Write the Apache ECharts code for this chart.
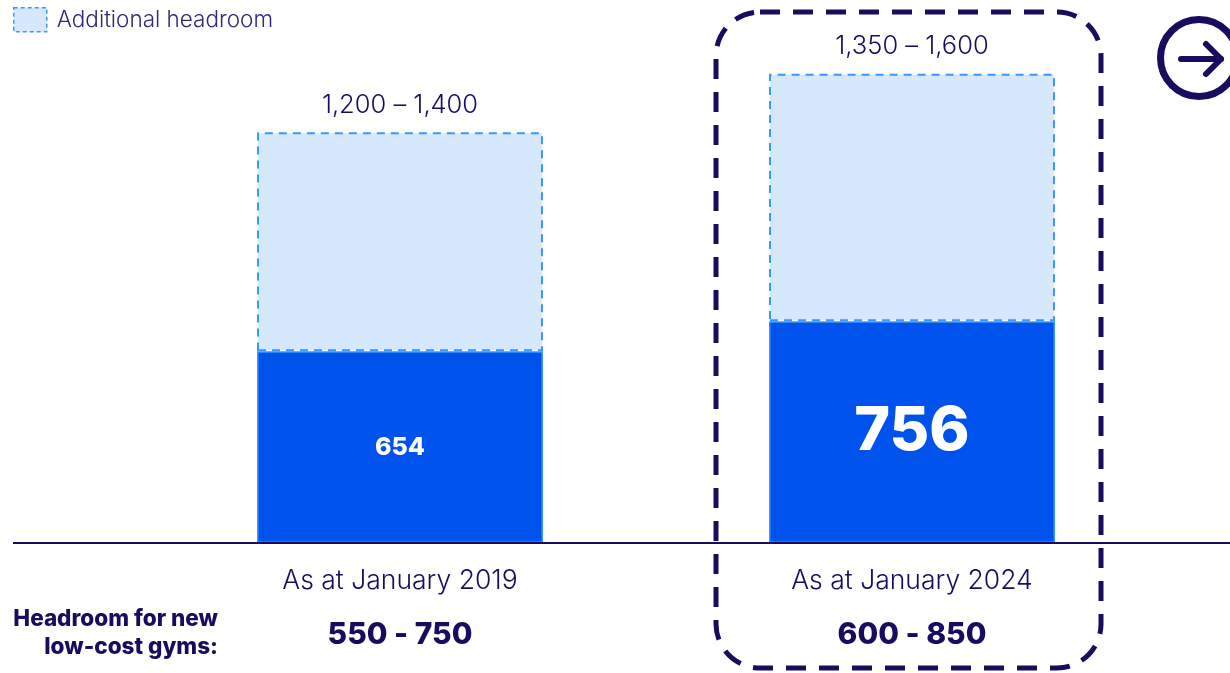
<!DOCTYPE html>
<html>
<head>
<meta charset="utf-8">
<script src="https://cdn.jsdelivr.net/npm/echarts@6/dist/echarts.min.js"></script>
<style>
  html, body { margin: 0; padding: 0; background: #ffffff; }
  #chart { width: 1230px; height: 673px; }
</style>
</head>
<body>
<div id="chart"></div>
<script>
// Low-cost gym estate: current count and estimated market capacity
const categories = ['As at January 2019', 'As at January 2024'];
const currentGyms = [654, 756];
const capacityTop = [1400, 1600];
const capacityLabels = ['1,200 – 1,400', '1,350 – 1,600'];
const headroomLabels = ['550 - 750', '600 - 850'];
const additionalHeadroom = capacityTop.map((t, i) => t - currentGyms[i]);

const NAVY = '#170d5e';
const BLUE = '#0052ec';
const LIGHT = '#d5e8fc';
const EDGE = '#3a97ff';
const FONT = 'Inter, "Noto Sans", sans-serif';

const chart = echarts.init(document.getElementById('chart'));

chart.setOption({
  animation: false,
  textStyle: { fontFamily: FONT },
  grid: { left: 144, right: 62, top: 15, bottom: 130, containLabel: false },
  legend: {
    left: 13, top: 7, padding: 0,
    itemWidth: 33, itemHeight: 24, itemGap: 10,
    icon: 'rect',
    data: [{
      name: 'Additional headroom',
      itemStyle: { color: LIGHT, borderColor: EDGE, borderWidth: 1.5, borderType: [4, 3] }
    }],
    textStyle: { fontSize: 22.5, color: '#2d2878', fontWeight: 300, fontFamily: FONT,
                 padding: [0, 0, 0, 5] }
  },
  xAxis: {
    type: 'category',
    data: categories,
    axisLine: { lineStyle: { color: NAVY, width: 2 } },
    axisTick: { show: false },
    axisLabel: {
      margin: 12,
      formatter: (v, i) => `{a|${v}}\n{b|${headroomLabels[i]}}`,
      rich: {
        a: { fontSize: 26.5, lineHeight: 53, color: NAVY, fontWeight: 300, fontFamily: FONT },
        b: { fontSize: 30, lineHeight: 53, color: NAVY, fontWeight: 800, fontFamily: FONT }
      }
    }
  },
  yAxis: {
    type: 'value', min: 0, max: 1800,
    show: false,
    splitLine: { show: false }
  },
  series: [
    {
      name: 'Current gyms',
      type: 'bar',
      stack: 'total',
      barWidth: 286,
      data: currentGyms,
      itemStyle: { color: BLUE, borderColor: EDGE, borderWidth: 1.5 },
      label: {
        show: true,
        position: 'inside',
        color: '#ffffff',
        fontWeight: 'bold',
        fontFamily: FONT,
        formatter: p => p.dataIndex === 1 ? `{big|${p.value}}` : `{small|${p.value}}`,
        rich: {
          small: { fontSize: 25, fontWeight: 800, color: '#ffffff', fontFamily: FONT },
          big: { fontSize: 61, fontWeight: 800, color: '#ffffff', fontFamily: FONT }
        }
      }
    },
    {
      name: 'Additional headroom',
      type: 'bar',
      stack: 'total',
      barWidth: 286,
      data: additionalHeadroom,
      itemStyle: { color: LIGHT, borderColor: EDGE, borderWidth: 2, borderType: [8, 6] },
      label: {
        show: true,
        position: 'top',
        distance: 14,
        color: NAVY,
        fontSize: 25.5,
        fontWeight: 300,
        fontFamily: FONT,
        formatter: p => capacityLabels[p.dataIndex]
      }
    }
  ],
  graphic: [
    // baseline across the full width
    { type: 'line', z: 10, shape: { x1: 13, y1: 543, x2: 1230, y2: 543 },
      style: { stroke: NAVY, lineWidth: 2 } },
    // row heading for the headroom figures
    { type: 'text', x: 218, y: 619, z: 10,
      style: { text: 'Headroom for new', align: 'right', verticalAlign: 'middle',
               fontSize: 22.5, fontWeight: 800, fill: NAVY, fontFamily: FONT } },
    { type: 'text', x: 218, y: 647, z: 10,
      style: { text: 'low-cost gyms:', align: 'right', verticalAlign: 'middle',
               fontSize: 22.5, fontWeight: 800, fill: NAVY, fontFamily: FONT } },
    // highlight frame around the latest period
    { type: 'rect', z: 10,
      shape: { x: 716, y: 12, width: 385, height: 656, r: 44 },
      style: { fill: 'none', stroke: NAVY, lineWidth: 5, lineDash: [20, 13] } },
    // arrow button
    { type: 'circle', z: 10, shape: { cx: 1199, cy: 58, r: 38.5 },
      style: { fill: 'none', stroke: NAVY, lineWidth: 7 } },
    { type: 'line', z: 10, shape: { x1: 1181, y1: 59, x2: 1221, y2: 59 },
      style: { stroke: NAVY, lineWidth: 6, lineCap: 'round' } },
    { type: 'polyline', z: 10, shape: { points: [[1206, 44], [1221, 59], [1206, 74]] },
      style: { fill: 'none', stroke: NAVY, lineWidth: 6, lineCap: 'round', lineJoin: 'round' } }
  ]
});
</script>
</body>
</html>
